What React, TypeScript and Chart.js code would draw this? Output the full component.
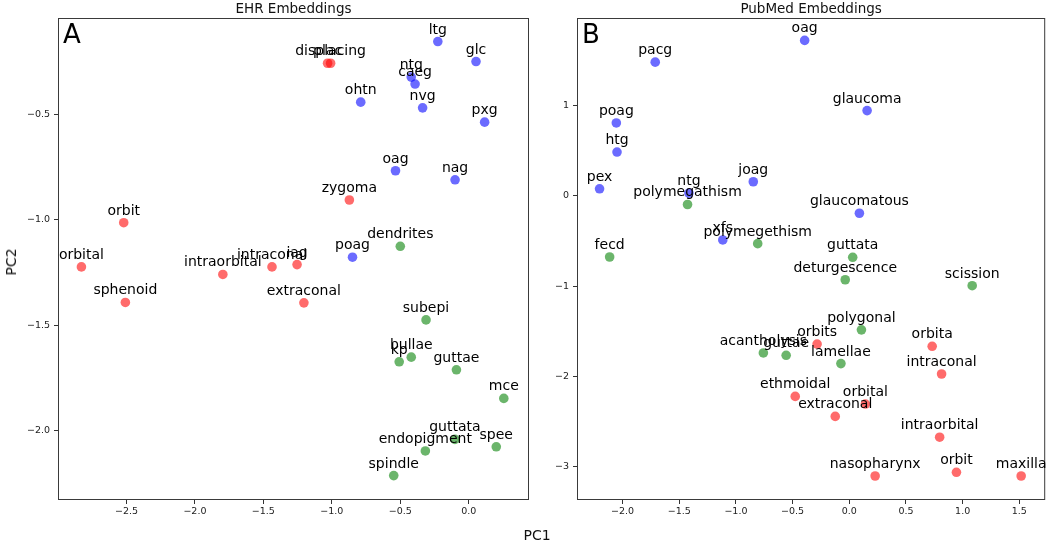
import React, { useEffect, useRef } from 'react';
import { Chart, registerables } from 'chart.js';

Chart.register(...registerables);

const FONT = '"DejaVu Sans", Verdana, sans-serif';

// ---------- EHR Embeddings (panel A) ----------
const EHR_BLUE_LABELS = ['ltg', 'glc', 'ntg', 'caeg', 'ohtn', 'nvg', 'pxg', 'oag', 'nag', 'poag'];
const EHR_BLUE_X = [-0.226, 0.053, -0.42, -0.392, -0.789, -0.337, 0.116, -0.535, -0.1, -0.849];
const EHR_BLUE_Y = [-0.152, -0.247, -0.321, -0.354, -0.44, -0.467, -0.535, -0.766, -0.809, -1.177];

const EHR_RED_LABELS = ['displacing', 'plac', 'zygoma', 'orbit', 'orbital', 'intraorbital', 'intraconal', 'iag', 'sphenoid', 'extraconal'];
const EHR_RED_X = [-1.009, -1.031, -0.872, -2.52, -2.829, -1.796, -1.437, -1.254, -2.508, -1.204];
const EHR_RED_Y = [-0.255, -0.255, -0.905, -1.013, -1.223, -1.259, -1.223, -1.212, -1.392, -1.394];

const EHR_GREEN_LABELS = ['dendrites', 'subepi', 'bullae', 'kp', 'guttae', 'mce', 'guttata', 'endopigment', 'spee', 'spindle'];
const EHR_GREEN_X = [-0.5, -0.312, -0.42, -0.508, -0.09, 0.256, -0.101, -0.317, 0.201, -0.548];
const EHR_GREEN_Y = [-1.125, -1.475, -1.652, -1.674, -1.712, -1.848, -2.043, -2.098, -2.078, -2.215];

const EHR_X_TICKS = [-2.5, -2.0, -1.5, -1.0, -0.5, 0.0];
const EHR_Y_TICKS = [-0.5, -1.0, -1.5, -2.0];

// ---------- PubMed Embeddings (panel B) ----------
const PUB_BLUE_LABELS = ['oag', 'pacg', 'glaucoma', 'poag', 'htg', 'joag', 'pex', 'ntg', 'glaucomatous', 'xfs'];
const PUB_BLUE_X = [-0.394, -1.712, 0.157, -2.055, -2.049, -0.847, -2.203, -1.415, 0.089, -1.116];
const PUB_BLUE_Y = [1.722, 1.481, 0.944, 0.807, 0.485, 0.156, 0.078, 0.03, -0.193, -0.489];

const PUB_GREEN_LABELS = ['polymegathism', 'polymegethism', 'fecd', 'guttata', 'deturgescence', 'scission', 'polygonal', 'acantholysis', 'guttae', 'lamellae'];
const PUB_GREEN_X = [-1.427, -0.808, -2.114, 0.03, -0.036, 1.084, 0.107, -0.758, -0.557, -0.074];
const PUB_GREEN_Y = [-0.096, -0.53, -0.678, -0.681, -0.93, -0.996, -1.485, -1.741, -1.767, -1.859];

const PUB_RED_LABELS = ['orbits', 'orbita', 'intraconal', 'ethmoidal', 'orbital', 'extraconal', 'intraorbital', 'nasopharynx', 'orbit', 'maxilla'];
const PUB_RED_X = [-0.284, 0.731, 0.814, -0.477, 0.142, -0.124, 0.797, 0.228, 0.945, 1.516];
const PUB_RED_Y = [-1.642, -1.667, -1.974, -2.222, -2.307, -2.444, -2.674, -3.104, -3.063, -3.104];

const PUB_X_TICKS = [-2.0, -1.5, -1.0, -0.5, 0.0, 0.5, 1.0, 1.5];
const PUB_Y_TICKS = [1, 0, -1, -2, -3];

const BLUE = 'rgba(0,0,255,0.58)';
const RED = 'rgba(255,0,0,0.58)';
const GREEN = 'rgba(0,128,0,0.58)';

type Group = { labels: string[]; xs: number[]; ys: number[]; color: string };

type PanelProps = {
  title: string;
  letter: string;
  groups: Group[];
  xMin: number;
  xMax: number;
  yMin: number;
  yMax: number;
  xTicks: number[];
  yTicks: number[];
  xDec: number;
  yDec: number;
  left: number;
  width: number;
  yAxisWidth: number;
  padRight: number;
};

const fmt = (v: number, d: number) => v.toFixed(d).replace('-', '\u2212');

function Panel(p: PanelProps) {
  const ref = useRef<HTMLCanvasElement | null>(null);
  useEffect(() => {
    if (!ref.current) return;
    const annot = {
      id: 'annot',
      afterDatasetsDraw(chart: any) {
        const ctx = chart.ctx;
        const area = chart.chartArea;
        ctx.save();
        // frame
        ctx.strokeStyle = '#3a3a3a';
        ctx.lineWidth = 1;
        ctx.strokeRect(area.left + 0.5, area.top + 0.5, area.right - area.left - 1, area.bottom - area.top - 1);
        // point labels
        ctx.fillStyle = '#000';
        ctx.font = `14px ${FONT}`;
        ctx.textAlign = 'center';
        ctx.textBaseline = 'alphabetic';
        chart.data.datasets.forEach((ds: any, di: number) => {
          const meta = chart.getDatasetMeta(di);
          meta.data.forEach((el: any, i: number) => {
            ctx.fillText(ds.pointLabels[i], el.x, el.y - 8);
          });
        });
        // panel letter
        ctx.textAlign = 'left';
        ctx.fillStyle = '#000';
        ctx.font = `26px ${FONT}`;
        ctx.fillText(p.letter, area.left + 5, area.top + 25);
        // title
        ctx.textAlign = 'center';
        ctx.font = `13.5px ${FONT}`;
        ctx.fillStyle = '#111';
        ctx.fillText(p.title, (area.left + area.right) / 2, 13);
        ctx.restore();
      },
    };
    const chart = new Chart(ref.current, {
      type: 'scatter',
      data: {
        datasets: p.groups.map((g) => ({
          data: g.xs.map((x, i) => ({ x, y: g.ys[i] })),
          pointLabels: g.labels,
          backgroundColor: g.color,
          borderColor: g.color,
          pointRadius: 4.8,
          pointBorderWidth: 0,
          pointHoverRadius: 4.8,
        })) as any,
      },
      options: {
        animation: false,
        responsive: false,
        events: [],
        layout: { padding: { top: 18, right: p.padRight, left: 0, bottom: 0 } },
        plugins: { legend: { display: false }, tooltip: { enabled: false }, title: { display: false } },
        scales: {
          x: {
            type: 'linear',
            min: p.xMin,
            max: p.xMax,
            afterBuildTicks: (s: any) => {
              s.ticks = p.xTicks.map((v) => ({ value: v }));
            },
            afterFit: (s: any) => {
              s.height = 43;
            },
            grid: { display: true, drawOnChartArea: false, drawTicks: true, tickLength: 4, color: '#333' },
            border: { display: false },
            ticks: {
              padding: 2,
              maxRotation: 0,
              autoSkip: false,
              color: '#222',
              font: { family: FONT, size: 9.5 },
              callback: (v: any) => fmt(Number(v), p.xDec),
            },
          },
          y: {
            type: 'linear',
            min: p.yMin,
            max: p.yMax,
            afterBuildTicks: (s: any) => {
              s.ticks = p.yTicks.map((v) => ({ value: v }));
            },
            afterFit: (s: any) => {
              s.width = p.yAxisWidth;
            },
            grid: { display: true, drawOnChartArea: false, drawTicks: true, tickLength: 4, color: '#333' },
            border: { display: false },
            ticks: {
              padding: 4,
              autoSkip: false,
              color: '#222',
              font: { family: FONT, size: 9.5 },
              callback: (v: any) => fmt(Number(v), p.yDec),
            },
          },
        },
      } as any,
      plugins: [annot],
    });
    return () => chart.destroy();
  }, []);
  return (
    <canvas
      ref={ref}
      width={p.width}
      height={543}
      style={{ position: 'absolute', left: p.left, top: 0, width: p.width, height: 543 }}
    />
  );
}

export default function App() {
  return (
    <div style={{ position: 'fixed', left: 0, top: 0, width: 1050, height: 543, background: '#fff', overflow: 'hidden' }}>
      <Panel
        title="EHR Embeddings"
        letter="A"
        groups={[
          { labels: EHR_BLUE_LABELS, xs: EHR_BLUE_X, ys: EHR_BLUE_Y, color: BLUE },
          { labels: EHR_RED_LABELS, xs: EHR_RED_X, ys: EHR_RED_Y, color: RED },
          { labels: EHR_GREEN_LABELS, xs: EHR_GREEN_X, ys: EHR_GREEN_Y, color: GREEN },
        ]}
        xMin={-3.0}
        xMax={0.44}
        yMin={-2.331}
        yMax={-0.04}
        xTicks={EHR_X_TICKS}
        yTicks={EHR_Y_TICKS}
        xDec={1}
        yDec={1}
        left={0}
        width={540}
        yAxisWidth={58}
        padRight={11}
      />
      <Panel
        title="PubMed Embeddings"
        letter="B"
        groups={[
          { labels: PUB_BLUE_LABELS, xs: PUB_BLUE_X, ys: PUB_BLUE_Y, color: BLUE },
          { labels: PUB_GREEN_LABELS, xs: PUB_GREEN_X, ys: PUB_GREEN_Y, color: GREEN },
          { labels: PUB_RED_LABELS, xs: PUB_RED_X, ys: PUB_RED_Y, color: RED },
        ]}
        xMin={-2.402}
        xMax={1.728}
        yMin={-3.37}
        yMax={1.97}
        xTicks={PUB_X_TICKS}
        yTicks={PUB_Y_TICKS}
        xDec={1}
        yDec={0}
        left={540}
        width={510}
        yAxisWidth={37}
        padRight={1}
      />
      <div
        style={{
          position: 'absolute',
          left: 0,
          width: 1074,
          top: 528,
          textAlign: 'center',
          font: `14px ${FONT}`,
          lineHeight: '14px',
          color: '#111',
        }}
      >
        PC1
      </div>
      <div
        style={{
          position: 'absolute',
          left: 11,
          top: 262,
          transform: 'translate(-50%, -50%) rotate(-90deg)',
          font: `14px ${FONT}`,
          lineHeight: '14px',
          color: '#111',
          whiteSpace: 'nowrap',
        }}
      >
        PC2
      </div>
    </div>
  );
}
